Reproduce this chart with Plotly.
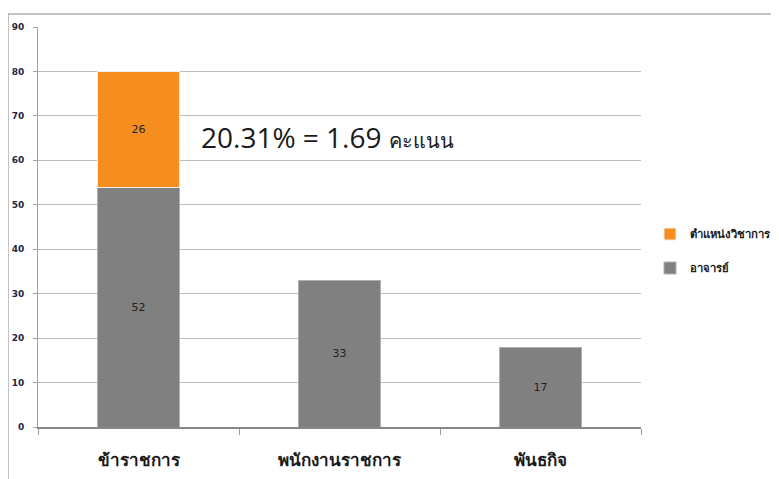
import plotly.graph_objects as go

categories = ["ข้าราชการ", "พนักงานราชการ", "พันธกิจ"]
series_names = ["อาจารย์", "ตำแหน่งวิชาการ"]
# bar heights as drawn in the picture
lecturer_heights = [53.8, 32.9, 17.8]
academic_heights = [26.2, None, None]
# numbers printed on the bars
lecturer_labels = ["52", "33", "17"]
academic_labels = ["26", "", ""]
y_ticks = [0, 10, 20, 30, 40, 50, 60, 70, 80, 90]
note_text = "20.31% = 1.69 <span style='font-size:20px'>คะแนน</span>"

gray = "#808080"
orange = "#f68e1f"
PAGE_OFF = 8  # default body margin of the html page
FIG_W, FIG_H = 779 - PAGE_OFF, 479 - PAGE_OFF
M_L, M_T = 38 - PAGE_OFF, 27 - PAGE_OFF
PLOT_H = 400
PLOT_W = FIG_W - M_L
X_DOMAIN_END = 603 / PLOT_W

fig = go.Figure()
fig.add_trace(go.Bar(
    x=categories, y=lecturer_heights, name=series_names[0], legendgroup="a", legendrank=2,
    marker=dict(color=gray, line=dict(color="#b0b0b0", width=1)),
    text=lecturer_labels, textposition="inside", insidetextanchor="middle",
    textfont=dict(family="DejaVu Sans, Arial", size=11, color="#222222"),
    width=0.41,
))
fig.add_trace(go.Bar(
    x=categories, y=academic_heights, name=series_names[1], legendgroup="b", legendrank=1,
    marker=dict(color=orange, line=dict(color="#eeeeee", width=1)),
    text=academic_labels, textposition="inside", insidetextanchor="middle",
    textfont=dict(family="DejaVu Sans, Arial", size=11, color="#222222"),
    width=0.41,
))

fig.add_annotation(
    x=(199 - 38) / PLOT_W, y=65.2, xref="paper", yref="y", text=note_text, showarrow=False,
    xanchor="left", yanchor="middle",
    font=dict(family="Open Sans, Noto Sans, sans-serif", size=28, color="#1a1a1a"),
)

fig.add_shape(
    type="rect", xref="paper", yref="paper",
    x0=(8 - 38) / PLOT_W, x1=1.2, y0=-0.3, y1=1 + 13 / PLOT_H,
    line=dict(color="#888888", width=1), fillcolor="rgba(0,0,0,0)", layer="below",
)

fig.update_layout(
    width=FIG_W, height=FIG_H,
    barmode="stack",
    paper_bgcolor="white", plot_bgcolor="white",
    margin=dict(l=M_L, r=0, t=M_T, b=FIG_H - M_T - PLOT_H),
    showlegend=True,
    legend=dict(
        x=(650 - 38) / PLOT_W, y=0.44, xanchor="left", yanchor="middle",
        traceorder="grouped",
        font=dict(family="Noto Sans, DejaVu Sans, sans-serif", size=11.3, color="#1a1a1a", weight="bold"),
        itemwidth=30, tracegroupgap=15, bgcolor="rgba(0,0,0,0)",
    ),
    font=dict(family="Noto Sans, DejaVu Sans, sans-serif"),
    bargap=0.59,
)
fig.update_yaxes(
    range=[0, 90], tickvals=y_ticks, showgrid=True, gridcolor="#bdbdbd", gridwidth=1,
    showline=True, linecolor="#a0a0a0", linewidth=1,
    ticks="outside", ticklen=4, tickcolor="#a0a0a0", ticklabelstandoff=7,
    tickfont=dict(family="DejaVu Sans, Arial", size=9, color="#1f1f3f", weight="bold"),
    zeroline=False, fixedrange=True, automargin=False,
)
fig.update_xaxes(
    domain=[0, X_DOMAIN_END],
    showline=True, linecolor="#888888", linewidth=2,
    ticks="outside", ticklen=6, tickcolor="#a0a0a0", tickson="boundaries",
    ticklabelstandoff=17,
    tickfont=dict(family="Noto Sans, DejaVu Sans, sans-serif", size=17, color="#1a1a1a", weight="bold"),
    showgrid=False, automargin=False,
)

fig.write_html("out.html")
